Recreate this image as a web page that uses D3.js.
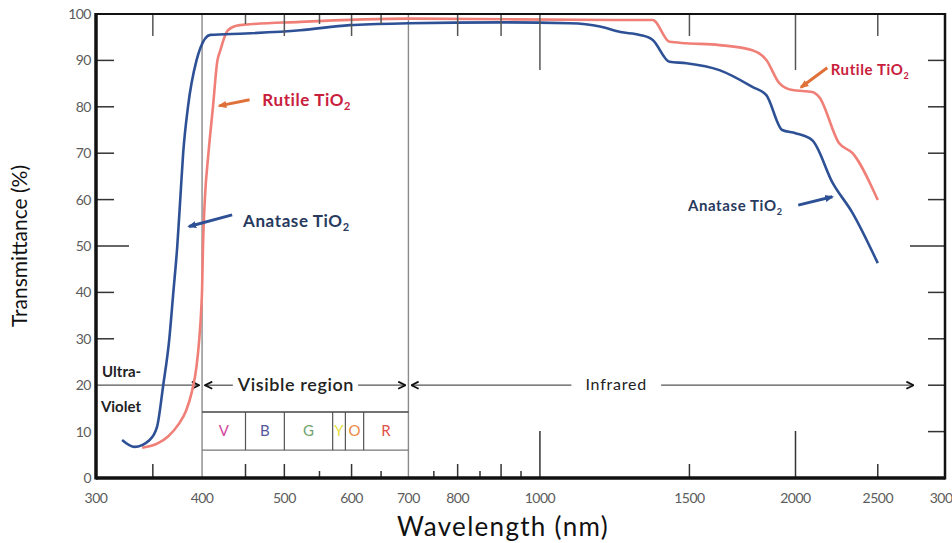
<!DOCTYPE html>
<html>
  <head>
    <meta charset="utf-8">
    <title>TiO2 transmittance</title>
    <script src="https://cdn.jsdelivr.net/npm/d3@7"></script>
    <style>
      body { margin: 0; background: #fff; }
      svg { font-family: Lato, "Open Sans", sans-serif; }
      .tickLabel { fill: #5c5c5c; font-size: 14px; letter-spacing: -0.5px; }
      .axisTitle { fill: #111; }
      .regionText { fill: #222; }
    </style>
  </head>
  <body>
    <svg id="chart" width="952" height="543">
      <defs>
        <marker id="chev" viewBox="0 0 10 10" refX="9" refY="5" markerWidth="9" markerHeight="9" markerUnits="userSpaceOnUse" orient="auto-start-reverse">
          <path d="M1,1 L9,5 L1,9" fill="none" stroke="#111" stroke-width="2"></path>
        </marker>
        <marker id="tipRed" viewBox="0 0 10 10" refX="8" refY="5" markerWidth="9" markerHeight="9" markerUnits="userSpaceOnUse" orient="auto">
          <path d="M0,1 L10,5 L0,9 Z" fill="#e0703a"></path>
        </marker>
        <marker id="tipBlue" viewBox="0 0 10 10" refX="8" refY="5" markerWidth="9" markerHeight="9" markerUnits="userSpaceOnUse" orient="auto">
          <path d="M0,1 L10,5 L0,9 Z" fill="#2e5196"></path>
        </marker>
      </defs>
      <g id="gridGroup"></g>
      <g id="annotGroup"></g>
      <g id="plotGroup"></g>
      <g id="axisGroup"></g>
    </svg>
    <script>
      // data: wavelength (nm) and transmittance (%)
      const anataseWl = [322, 333, 347, 354, 360, 366, 370, 374, 377, 380, 385, 394, 398, 409, 450, 522, 597, 700, 900, 1085, 1177, 1244, 1311, 1358, 1421, 1488, 1627, 1779, 1848, 1929, 2000, 2093, 2212, 2335, 2500];
      const anataseT = [8.2, 6.7, 8.2, 11, 20, 30, 40, 50, 60, 70, 80, 90, 92.6, 95.5, 95.8, 96.5, 97.6, 98, 98.2, 98, 97.3, 96.1, 95.5, 94.4, 89.7, 89.4, 87.9, 84.3, 82.5, 75, 74.3, 72.8, 63.6, 57.1, 46.3];
      const rutileWl = [340, 355, 365, 375, 383, 389, 394, 397, 399, 400, 401, 403, 407, 412, 417, 420, 429, 443, 522, 700, 1244, 1358, 1421, 1488, 1627, 1779, 1848, 1914, 1983, 2093, 2133, 2250, 2335, 2500];
      const rutileT = [6.5, 7.5, 9, 11.5, 14.5, 18.5, 24, 30, 36, 40.5, 50, 60, 70, 80, 90, 92, 96.5, 97.6, 98.3, 99, 98.7, 98.7, 94, 93.7, 93.3, 92.2, 90.1, 85.1, 83.6, 83.2, 82.1, 72.2, 70, 59.9];

      const xTickLabels = [300, 400, 500, 600, 700, 800, 1000, 1500, 2000, 2500, 3000];
      const yTickLabels = [0, 10, 20, 30, 40, 50, 60, 70, 80, 90, 100];

      // inward tick marks, grouped by how long they are drawn
      const bottomShort = [550, 650, 750, 850, 950];
      const bottomMedium = [350, 450, 500, 600, 800, 900, 1500, 2500];
      const bottomLong = [1000, 2000];
      const topShort = [450, 550, 650];
      const topMedium = [350, 500, 600, 800, 900, 1500, 2500];
      const topLong = [1000, 2000];
      const leftTicks = [30, 40, 50, 60, 70, 80, 90];
      const rightTicks = [10, 20, 30, 40, 50, 60, 70, 80, 90];
      const regionLines = [400, 700];

      // visible colour bands
      const bandEdges = [400, 450, 500, 570, 590, 620, 700];
      const bandNames = ["V", "B", "G", "Y", "O", "R"];

      // name page elements
      chart = d3.select("#chart");
      gridGroup = d3.select("#gridGroup");
      annotGroup = d3.select("#annotGroup");
      plotGroup = d3.select("#plotGroup");
      axisGroup = d3.select("#axisGroup");

      margin = { top: 14, right: 7, bottom: 65, left: 96 };
      width = 952; height = 543;
      x = d3.scaleLog().domain([300, 3000]).range([margin.left, width - margin.right]);
      y = d3.scaleLinear().domain([0, 100]).range([height - margin.bottom, margin.top]);
      bandColour = d3.scaleOrdinal(bandNames, ["#d2489a", "#55569c", "#6fa46f", "#e6df3c", "#ec8a45", "#e0504c"]);

      // full-height lines at 400 and 700 nm
      gridGroup.selectAll("line.region").data(regionLines).join("line")
        .attr("x1", d => x(d)).attr("x2", d => x(d))
        .attr("y1", y(100)).attr("y2", y(0))
        .attr("stroke", "#8a8a8a").attr("stroke-width", 1.4);

      // inward ticks
      function ticks(vals, len, side) {
        axisGroup.append("g").selectAll("line").data(vals).join("line")
          .attr("x1", d => x(d)).attr("x2", d => x(d))
          .attr("y1", side === "bottom" ? y(0) : y(100))
          .attr("y2", side === "bottom" ? y(0) - len : y(100) + len)
          .attr("stroke", side === "bottom" ? "#333" : "#555")
          .attr("stroke-width", 1.5);
      }
      ticks(bottomShort, 7, "bottom");
      ticks(bottomMedium, 14, "bottom");
      ticks(bottomLong, 47, "bottom");
      ticks(topShort, 10, "top");
      ticks(topMedium, 22, "top");
      ticks(topLong, 56, "top");

      axisGroup.append("g").selectAll("line").data(leftTicks).join("line")
        .attr("x1", x(300)).attr("x2", d => x(300) + (d === 50 ? 33 : 18))
        .attr("y1", d => y(d)).attr("y2", d => y(d))
        .attr("stroke", "#333").attr("stroke-width", 1.5);
      axisGroup.append("g").selectAll("line").data(rightTicks).join("line")
        .attr("x1", x(3000)).attr("x2", d => x(3000) - (d === 50 ? 35 : 17))
        .attr("y1", d => y(d)).attr("y2", d => y(d))
        .attr("stroke", "#333").attr("stroke-width", 1.5);

      // frame
      frame = axisGroup.append("g").attr("stroke", "#111");
      frame.append("line").attr("x1", x(300)).attr("x2", x(3000)).attr("y1", y(0)).attr("y2", y(0)).attr("stroke-width", 3.5);
      frame.append("line").attr("x1", x(300)).attr("x2", x(3000)).attr("y1", y(100)).attr("y2", y(100)).attr("stroke-width", 2);
      frame.append("line").attr("x1", x(300)).attr("x2", x(300)).attr("y1", y(100) - 1).attr("y2", y(0) + 1.5).attr("stroke-width", 3.5);
      frame.append("line").attr("x1", x(3000)).attr("x2", x(3000)).attr("y1", y(100) - 1).attr("y2", y(0) + 1.5).attr("stroke-width", 2.5);

      // tick labels (the last one runs off the edge, as in the original)
      axisGroup.append("g").selectAll("text").data(xTickLabels).join("text")
        .attr("class", "tickLabel")
        .attr("x", d => x(d)).attr("y", y(0) + 25)
        .attr("text-anchor", "middle")
        .text(d => d);
      axisGroup.append("g").selectAll("text").data(yTickLabels).join("text")
        .attr("class", "tickLabel")
        .attr("x", x(300) - 5).attr("y", d => y(d) + 5)
        .attr("text-anchor", "end")
        .text(d => d);

      // axis titles
      axisGroup.append("text").attr("class", "axisTitle")
        .attr("transform", "translate(27," + y(50) + ") rotate(-90)")
        .attr("text-anchor", "middle").style("font-size", "21px")
        .text("Transmittance (%)");
      axisGroup.append("text").attr("class", "axisTitle")
        .attr("x", 503).attr("y", 536)
        .attr("text-anchor", "middle").style("font-size", "26px").style("letter-spacing", "1.3px")
        .text("Wavelength (nm)");

      // colour band table
      bands = annotGroup.append("g");
      bands.append("line").attr("x1", x(400)).attr("x2", x(700)).attr("y1", y(14.2)).attr("y2", y(14.2))
        .attr("stroke", "#444").attr("stroke-width", 1.5);
      bands.append("line").attr("x1", x(400)).attr("x2", x(700)).attr("y1", y(6)).attr("y2", y(6))
        .attr("stroke", "#777").attr("stroke-width", 1.2);
      bands.selectAll("line.edge").data(bandEdges.slice(1, -1)).join("line")
        .attr("x1", d => x(d)).attr("x2", d => x(d))
        .attr("y1", y(14.2)).attr("y2", y(6))
        .attr("stroke", "#555").attr("stroke-width", 1.2);
      bands.selectAll("text").data(bandNames).join("text")
        .attr("x", (d, i) => x(Math.sqrt(bandEdges[i] * bandEdges[i + 1])))
        .attr("y", y(10.1) + 5)
        .attr("text-anchor", "middle")
        .style("font-size", "15px")
        .attr("fill", d => bandColour(d))
        .text(d => d);

      // region arrows at 20 %
      function hLine(x1, x2, startArrow, endArrow) {
        l = annotGroup.append("line")
          .attr("x1", x1).attr("x2", x2).attr("y1", y(20)).attr("y2", y(20))
          .attr("stroke", "#555").attr("stroke-width", 1.3);
        if (startArrow) l.attr("marker-start", "url(#chev)");
        if (endArrow) l.attr("marker-end", "url(#chev)");
      }
      hLine(x(300), x(400) - 3, false, true);

      visText = annotGroup.append("text").attr("class", "regionText")
        .attr("x", x(516)).attr("y", y(20) + 6).attr("text-anchor", "middle")
        .style("font-size", "18px").style("font-weight", "600").style("letter-spacing", "0.6px")
        .text("Visible region");
      vb = visText.node().getBBox();
      hLine(x(400) + 3, vb.x - 4, true, false);
      hLine(vb.x + vb.width + 4, x(700) - 3, false, true);

      irText = annotGroup.append("text").attr("class", "regionText")
        .attr("x", x(1230)).attr("y", y(20) + 5).attr("text-anchor", "middle")
        .style("font-size", "16px").style("letter-spacing", "0.8px")
        .text("Infrared");
      ib = irText.node().getBBox();
      hLine(x(700) + 3, ib.x - 14, true, false);
      hLine(ib.x + ib.width + 14, x(2755), false, true);

      annotGroup.append("text").attr("class", "regionText")
        .attr("x", x(305)).attr("y", y(21.8)).style("font-size", "15px").style("font-weight", "bold")
        .text("Ultra-");
      annotGroup.append("text").attr("class", "regionText")
        .attr("x", x(304)).attr("y", y(14.2)).style("font-size", "15px").style("font-weight", "bold")
        .text("Violet");

      // transmittance curves
      lineGen = d3.line()
        .x(d => x(d[0]))
        .y(d => y(d[1]))
        .curve(d3.curveMonotoneX);
      plotGroup.append("path")
        .attr("d", lineGen(d3.zip(rutileWl, rutileT)))
        .attr("fill", "none").attr("stroke", "#f07f78").attr("stroke-width", 2.6);
      plotGroup.append("path")
        .attr("d", lineGen(d3.zip(anataseWl, anataseT)))
        .attr("fill", "none").attr("stroke", "#2e5196").attr("stroke-width", 2.6);

      // curve labels with arrows
      function label(wl, t, name, colour, size) {
        txt = plotGroup.append("text")
          .attr("x", x(wl)).attr("y", y(t))
          .style("font-size", size + "px").style("font-weight", "bold")
          .style("letter-spacing", "0.6px")
          .attr("fill", colour);
        txt.append("tspan").text(name + " TiO");
        txt.append("tspan").attr("dy", 4).style("font-size", (size - 6) + "px").text("2");
      }
      function arrow(from, to, colour, tip) {
        plotGroup.append("line")
          .attr("x1", x(from[0])).attr("y1", y(from[1]))
          .attr("x2", x(to[0])).attr("y2", y(to[1]))
          .attr("stroke", colour).attr("stroke-width", 3)
          .attr("marker-end", "url(#" + tip + ")");
      }
      label(471, 80.2, "Rutile", "#c8203c", 17);
      arrow([455, 81.5], [419, 80.2], "#e0703a", "tipRed");
      label(447, 54, "Anatase", "#283a5e", 17);
      arrow([434, 56.7], [386, 54.2], "#2e5196", "tipBlue");
      label(2200, 86.9, "Rutile", "#c8203c", 15);
      arrow([2180, 88.4], [2030, 84.2], "#e0703a", "tipRed");
      label(1494, 57.6, "Anatase", "#283a5e", 15);
      arrow([2015, 58.8], [2210, 60.6], "#2e5196", "tipBlue");
    </script>
  </body>
</html>
